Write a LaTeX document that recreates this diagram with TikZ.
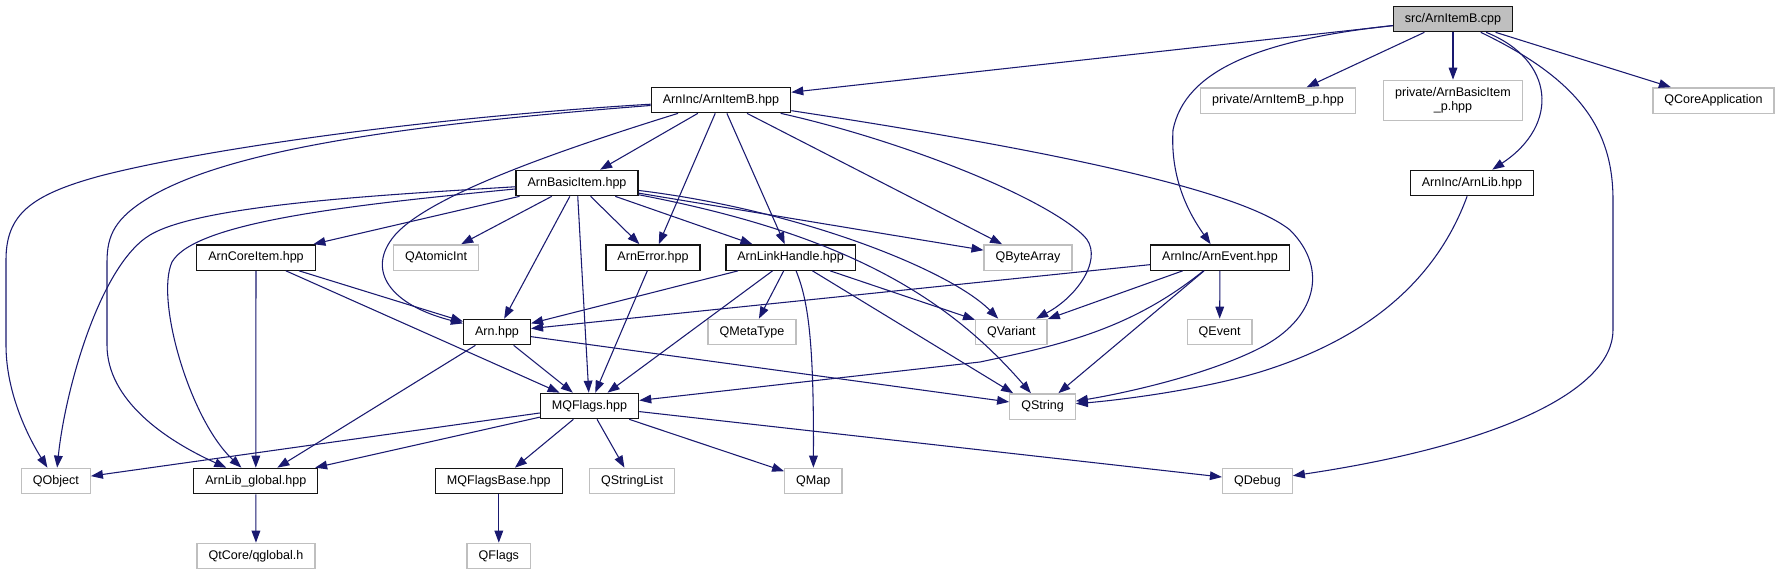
\documentclass[tikz,border=0pt]{standalone}
\usepackage{fontspec}
\setmainfont{Liberation Sans}
\usetikzlibrary{arrows.meta}
\definecolor{grEdge}  {RGB}{ 25, 25,112}
\definecolor{grRoot}  {RGB}{191,191,191}
\definecolor{grExtBd} {RGB}{191,191,191}
\definecolor{grDocBd} {RGB}{ 20, 20, 20}
\tikzset{
  base/.style={
    rectangle, align=center, font=\fontsize{9.4}{11}\selectfont,
    inner xsep=8.6pt, inner ysep=0pt, minimum height=19pt,
    line width=1pt, fill=white
  },
  rootnode/.style={
    base, fill=grRoot, draw=grDocBd
  },
  docnode/.style={
    base, draw=grDocBd
  },
  extnode/.style={
    base, draw=grExtBd
  },
  arr/.style={
    -{Triangle[length=9pt, width=6.5pt]},
    line width=0.8pt, color=grEdge
  }
}

\begin{document}
\begin{tikzpicture}[x=0.75pt, y=-0.75pt]

    % ============================================================
    % CANVAS
    % ============================================================
    \path[use as bounding box, fill=white] (0,0) rectangle (1781,575);

    % ============================================================
    % ROW 1 AND 2
    % ============================================================
    \node (cpp) [rootnode] at (1453,19) {src/ArnItemB.cpp};

    \node (ih)  [docnode] at (721,100) {ArnInc/ArnItemB.hpp};
    \node (pib) [extnode] at (1278,100.5) {private/ArnItemB\_p.hpp};
    \node (pbi) [extnode, minimum height=30pt] at (1453,100.3) {private/ArnBasicItem\\\_p.hpp};
    \node (qca) [extnode] at (1713.5,100.5) {QCoreApplication};

    % ============================================================
    % ROW 3 AND 4
    % ============================================================
    \node (bi)  [docnode] at (577,183) {ArnBasicItem.hpp};
    \node (lib) [docnode] at (1472,183) {ArnInc/ArnLib.hpp};

    \node (ci)  [docnode] at (256,257.5) {ArnCoreItem.hpp};
    \node (qai) [extnode] at (436,257.5) {QAtomicInt};
    \node (err) [docnode] at (653,257.5) {ArnError.hpp};
    \node (lh)  [docnode] at (790.6,257.5) {ArnLinkHandle.hpp};
    \node (qba) [extnode] at (1028,257.5) {QByteArray};
    \node (ev)  [docnode] at (1220,257.5) {ArnInc/ArnEvent.hpp};

    % ============================================================
    % ROW 5 AND 6
    % ============================================================
    \node (arn) [docnode] at (497,332) {Arn.hpp};
    \node (qmt) [extnode] at (752,332) {QMetaType};
    \node (qv)  [extnode] at (1011.4,332) {QVariant};
    \node (qev) [extnode] at (1219.6,332) {QEvent};

    \node (mq)  [docnode] at (589.5,406) {MQFlags.hpp};
    \node (qs)  [extnode] at (1042.5,406.5) {QString};

    % ============================================================
    % ROW 7 AND 8
    % ============================================================
    \node (qob)  [extnode] at (55.8,481) {QObject};
    \node (lg)   [docnode] at (255.8,481) {ArnLib\_global.hpp};
    \node (mqb)  [docnode] at (498.8,481) {MQFlagsBase.hpp};
    \node (qsl)  [extnode] at (632,481) {QStringList};
    \node (qmap) [extnode] at (813.3,481) {QMap};
    \node (qdb)  [extnode] at (1257.4,481) {QDebug};

    \node (qg)  [extnode] at (256,556) {QtCore/qglobal.h};
    \node (qfl) [extnode] at (498.8,556) {QFlags};

    % ============================================================
    % CONNECTIONS
    % ============================================================
    % From src/ArnItemB.cpp
    \draw [arr] (cpp) -- (ih);
    \draw [arr] (cpp) -- (pib);
    \draw [arr] (cpp) -- (pbi);
    \draw [arr] (cpp) -- (qca);
    \draw [arr] (cpp) .. controls (1555,60) and (1560,125) .. (lib);
    \draw [arr] (cpp) .. controls (1260,40) and (1185,70) .. (1173,130)
                      .. controls (1170,180) and (1190,215) .. (ev);
    \draw [arr] (cpp) .. controls (1580,80) and (1613,130) .. (1613,200) -- (1613,330)
                      .. controls (1613,390) and (1500,445) .. (qdb);

    % From ArnItemB.hpp
    \draw [arr] (ih) -- (bi);
    \draw [arr] (ih) -- (err);
    \draw [arr] (ih) -- (lh);
    \draw [arr] (ih) -- (qba);
    \draw [arr] (ih) .. controls (420,118) and (200,150) .. (100,176)
                     .. controls (30,195) and (6,215) .. (6,260) -- (6,345)
                     .. controls (6,395) and (30,440) .. (qob);
    \draw [arr] (ih) .. controls (400,125) and (230,150) .. (150,197)
                     .. controls (115,218) and (107,235) .. (107,262) -- (107,345)
                     .. controls (107,400) and (165,440) .. (lg);
    \draw [arr] (ih) .. controls (560,150) and (430,195) .. (395,235)
                     .. controls (365,270) and (390,305) .. (arn);
    \draw [arr] (ih) .. controls (900,140) and (1040,195) .. (1083,235)
                     .. controls (1105,255) and (1080,295) .. (qv);
    \draw [arr] (ih) .. controls (1050,150) and (1240,190) .. (1290,230)
                     .. controls (1330,270) and (1315,320) .. (1260,348)
                     .. controls (1205,376) and (1120,394) .. (qs);

    % From ArnBasicItem.hpp
    \draw [arr] (bi) -- (ci);
    \draw [arr] (bi) -- (qai);
    \draw [arr] (bi) -- (arn);
    \draw [arr] (bi) -- (mq);
    \draw [arr] (bi) -- (err);
    \draw [arr] (bi) -- (lh);
    \draw [arr] (bi) -- (qba);
    \draw [arr] (bi) .. controls (380,195) and (200,205) .. (150,235)
                     .. controls (100,265) and (65,390) .. (qob);
    \draw [arr] (bi) .. controls (350,205) and (195,222) .. (172,262)
                     .. controls (155,300) and (190,420) .. (lg);
    \draw [arr] (bi) .. controls (800,210) and (950,270) .. (qv);
    \draw [arr] (bi) .. controls (850,235) and (950,300) .. (qs);

    % From ArnCoreItem.hpp and ArnError.hpp
    \draw [arr] (ci) -- (arn);
    \draw [arr] (ci) -- (lg);
    \draw [arr] (ci) -- (mq);
    \draw [arr] (err) -- (mq);

    % From ArnLinkHandle.hpp
    \draw [arr] (lh) -- (arn);
    \draw [arr] (lh) -- (mq);
    \draw [arr] (lh) -- (qmt);
    \draw [arr] (lh) -- (qv);
    \draw [arr] (lh) -- ([xshift=3pt]qs.north west);
    \draw [arr] (lh) .. controls (808,300) and (814,340) .. (qmap);

    % From ArnEvent.hpp and ArnLib.hpp
    \draw [arr] (ev) -- (arn);
    \draw [arr] (ev) -- (qv);
    \draw [arr] (ev) -- (qs);
    \draw [arr] (ev) -- (qev);
    \draw [arr] (ev) .. controls (1130,330) and (1060,345) .. (980,362) -- (mq);
    \draw [arr] (lib) .. controls (1440,270) and (1380,335) .. (1260,372)
                      .. controls (1200,390) and (1120,400) .. (qs);

    % From Arn.hpp
    \draw [arr] (arn) -- (mq);
    \draw [arr] (arn) -- (lg);
    \draw [arr] (arn) -- (qs);

    % From MQFlags.hpp
    \draw [arr] (mq) -- (qob);
    \draw [arr] (mq) -- (lg);
    \draw [arr] (mq) -- (mqb);
    \draw [arr] (mq) -- (qsl);
    \draw [arr] (mq) -- (qmap);
    \draw [arr] (mq) -- (qdb);

    % Bottom row
    \draw [arr] (lg) -- (qg);
    \draw [arr] (mqb) -- (qfl);

\end{tikzpicture}
\end{document}
